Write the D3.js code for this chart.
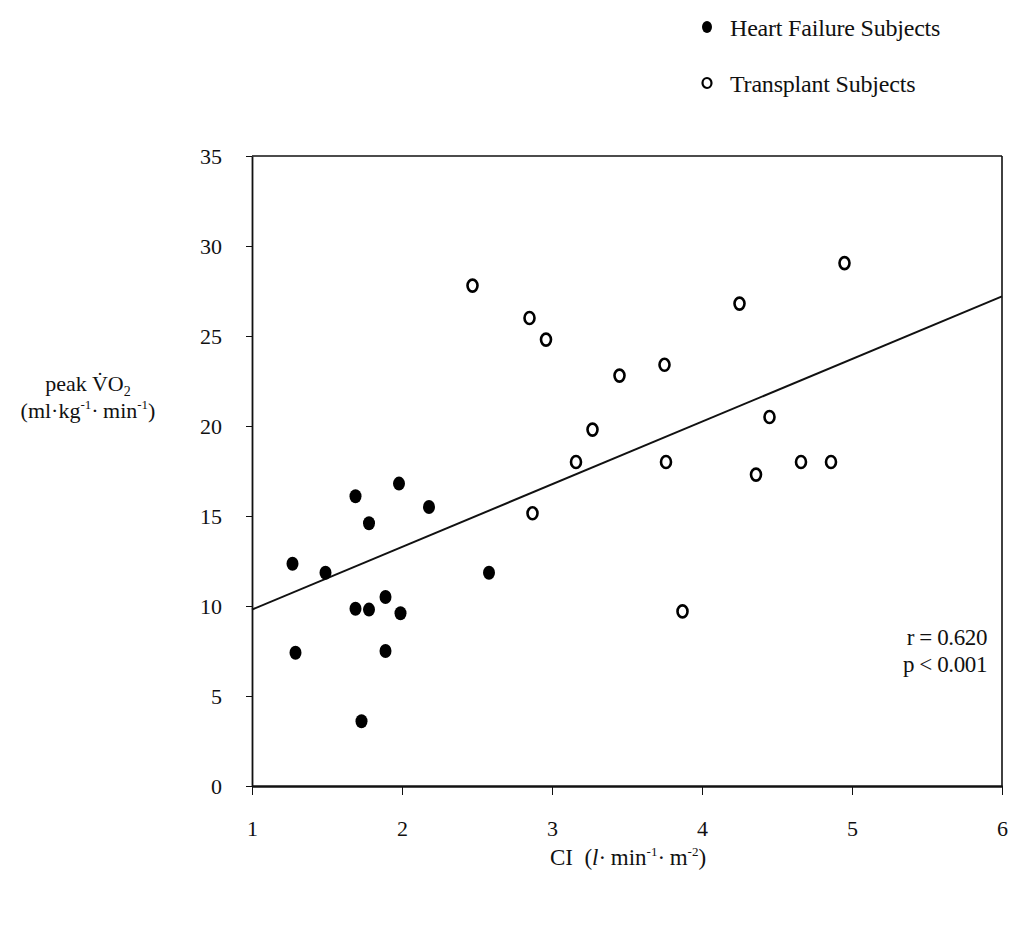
<!DOCTYPE html>
<html>
<head>
<meta charset="utf-8">
<script src="https://cdn.jsdelivr.net/npm/d3@7"></script>
<style>
  body { margin: 0; background: #fff; }
  svg { font-family: "Liberation Serif", "Times New Roman", serif; }
  .axis path, .axis line { stroke: #111; }
  .axis text { font-size: 22px; fill: #111; font-family: "Liberation Serif", serif; }
</style>
</head>
<body>
<script>
// Heart failure subjects (filled)
var hfCI  = [1.27, 1.29, 1.49, 1.69, 1.69, 1.78, 1.78, 1.89, 1.89, 1.98, 1.99, 2.18, 2.58, 1.73];
var hfVO2 = [12.35, 7.4, 11.85, 16.1, 9.85, 9.8, 14.6, 10.5, 7.5, 16.8, 9.6, 15.5, 11.85, 3.6];

// Transplant subjects (open)
var txCI  = [2.47, 2.85, 2.96, 3.45, 3.75, 3.27, 3.16, 3.76, 4.25, 4.45, 4.36, 4.66, 4.86, 4.95, 2.87, 3.87];
var txVO2 = [27.8, 26.0, 24.8, 22.8, 23.4, 19.8, 18.0, 18.0, 26.8, 20.5, 17.3, 18.0, 18.0, 29.05, 15.15, 9.7];

var xTicks = [1, 2, 3, 4, 5, 6];
var yTicks = [0, 5, 10, 15, 20, 25, 30, 35];

// regression line
var fitIntercept = 6.32;
var fitSlope = 3.48;

var statLines = ["r = 0.620", "p < 0.001"];
var legendLabels = ["Heart Failure Subjects", "Transplant Subjects"];

var W = 1013, H = 927;
var margin = {top: 156, left: 252},
    width = 750,
    height = 630;

var svg = d3.select("body").append("svg")
    .attr("width", W)
    .attr("height", H);

var g = svg.append("g")
    .attr("transform", "translate(" + margin.left + "," + margin.top + ")");

var x = d3.scaleLinear().domain([1, 6]).range([0, width]);
var y = d3.scaleLinear().domain([0, 35]).range([height, 0]);

// frame (top + right)
g.append("line")
  .attr("x1", 0).attr("x2", width).attr("y1", 0).attr("y2", 0)
  .attr("stroke", "#111").attr("stroke-width", 1.6);
g.append("line")
  .attr("x1", width).attr("x2", width).attr("y1", 0).attr("y2", height)
  .attr("stroke", "#111").attr("stroke-width", 1.6);

// axes
var yAxis = d3.axisLeft(y).tickValues(yTicks).tickFormat(d3.format("d"))
  .tickSize(6).tickPadding(24).tickSizeOuter(0);
var xAxis = d3.axisBottom(x).tickValues(xTicks).tickFormat(d3.format("d"))
  .tickSize(9).tickPadding(25).tickSizeOuter(0);

g.append("g").attr("class", "y axis").call(yAxis)
  .call(function(s) { s.select(".domain").attr("stroke-width", 1.8); });
g.append("g").attr("class", "x axis")
  .attr("transform", "translate(0," + height + ")")
  .call(xAxis)
  .call(function(s) { s.select(".domain").attr("stroke-width", 2.6); });

// fit line
var fitLine = d3.line()
  .x(function(d) { return x(d); })
  .y(function(d) { return y(fitIntercept + fitSlope * d); });
g.append("path")
  .attr("d", fitLine([1, 6]))
  .attr("fill", "none")
  .attr("stroke", "#111")
  .attr("stroke-width", 2);

// points
g.selectAll(".hf").data(hfCI).enter().append("ellipse")
  .attr("class", "hf")
  .attr("cx", function(d) { return x(d); })
  .attr("cy", function(d, i) { return y(hfVO2[i]); })
  .attr("rx", 6).attr("ry", 7)
  .attr("fill", "#000");

g.selectAll(".tx").data(txCI).enter().append("ellipse")
  .attr("class", "tx")
  .attr("cx", function(d) { return x(d); })
  .attr("cy", function(d, i) { return y(txVO2[i]); })
  .attr("rx", 5).attr("ry", 6)
  .attr("fill", "#fff")
  .attr("stroke", "#000")
  .attr("stroke-width", 2.6);

// stats
g.selectAll(".stat").data(statLines).enter().append("text")
  .attr("x", width - 15)
  .attr("y", function(d, i) { return y(7.85) + i * 27; })
  .attr("text-anchor", "end")
  .attr("font-size", 23)
  .attr("letter-spacing", -0.4)
  .attr("fill", "#111")
  .text(function(d) { return d; });

// legend
var legend = svg.append("g").attr("transform", "translate(707,0)");
legend.append("ellipse").attr("cx", 0).attr("cy", 27).attr("rx", 5).attr("ry", 6).attr("fill", "#000");
legend.append("ellipse").attr("cx", 0).attr("cy", 83).attr("rx", 4.5).attr("ry", 5)
  .attr("fill", "#fff").attr("stroke", "#000").attr("stroke-width", 2.2);
legend.selectAll(".lt").data(legendLabels).enter().append("text")
  .attr("x", 23)
  .attr("y", function(d, i) { return 36 + i * 56; })
  .attr("font-size", 24)
  .attr("letter-spacing", -0.2)
  .attr("fill", "#111")
  .text(function(d) { return d; });

// y label
var yl = svg.append("text").attr("text-anchor", "middle").attr("font-size", 22).attr("fill", "#111");
var t1 = yl.append("tspan").attr("x", 88).attr("y", 391);
t1.append("tspan").text("peak V\u0307O");
t1.append("tspan").attr("font-size", 14).attr("dy", 5).text("2");
var t2 = yl.append("tspan").attr("x", 88).attr("y", 418);
t2.append("tspan").attr("dy", 0).text("(ml\u00b7kg");
t2.append("tspan").attr("font-size", 13).attr("dy", -9).text("-1");
t2.append("tspan").attr("dy", 9).text("\u00b7\u2009min");
t2.append("tspan").attr("font-size", 13).attr("dy", -9).text("-1");
t2.append("tspan").attr("dy", 9).text(")");

// x label
var xl = svg.append("text").attr("x", 628).attr("y", 865).attr("text-anchor", "middle")
  .attr("font-size", 23).attr("fill", "#111");
xl.append("tspan").text("CI\u00a0\u00a0(");
xl.append("tspan").attr("font-style", "italic").text("l");
xl.append("tspan").text("\u00b7\u2009min");
xl.append("tspan").attr("font-size", 13).attr("dy", -9).text("-1");
xl.append("tspan").attr("dy", 9).text("\u00b7\u2009m");
xl.append("tspan").attr("font-size", 13).attr("dy", -9).text("-2");
xl.append("tspan").attr("dy", 9).text(")");
</script>
</body>
</html>
